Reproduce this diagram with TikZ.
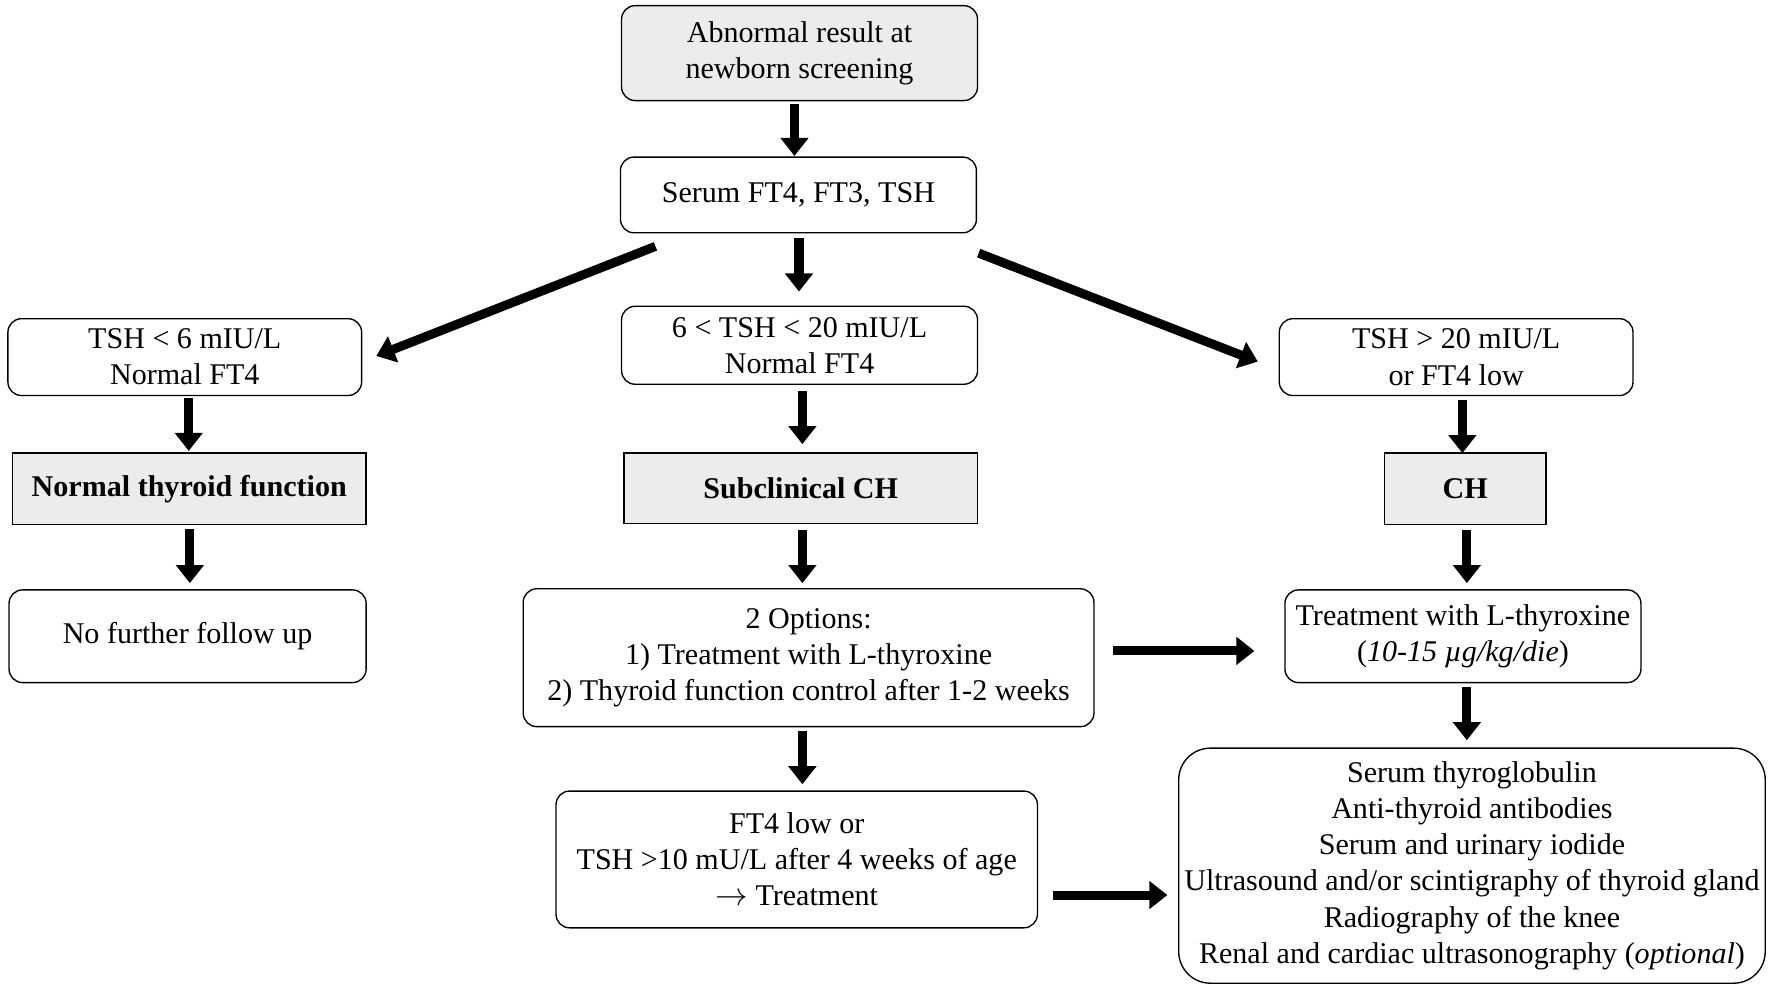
\documentclass[tikz,border=0pt]{standalone}
\usepackage{fontspec}
\setmainfont{Liberation Serif}
\usetikzlibrary{arrows.meta}
\begin{document}
\begin{tikzpicture}[x=0.5pt,y=-0.5pt,
 box/.style={draw,rounded corners=6pt,line width=0.6pt,align=center,font=\fontsize{13.3}{16}\selectfont},
 gbox/.style={draw,line width=0.6pt,fill=gray!15,align=center,font=\bfseries\fontsize{13.3}{16}\selectfont},
 arr/.style={line width=4pt,-{Triangle[length=8pt,width=12pt]}}]
\useasboundingbox (0,0) rectangle (1568,877);
\newcommand\bx[7]{\node[#1,minimum width={(#3-#2)*0.5pt},minimum height={(#5-#4)*0.5pt},inner sep=1pt] (#6) at ({(#2+#3)/2},{(#4+#5)/2}) {#7};}
\bx{box,fill=gray!15}{550}{865}{5}{89}{A}{Abnormal result at\\newborn screening}
\bx{box}{549}{864}{139}{206}{B}{Serum FT4, FT3, TSH}
\bx{box}{7}{320}{282}{350}{L1}{TSH < 6 mIU/L\\Normal FT4}
\bx{box}{550}{865}{271}{340}{M1}{6 < TSH < 20 mIU/L\\Normal FT4}
\bx{box}{1132}{1445}{282}{350}{R1}{TSH > 20 mIU/L\\or FT4 low}
\bx{gbox}{11}{324}{401}{464}{L2}{Normal thyroid function}
\bx{gbox}{552}{865}{401}{463}{M2}{Subclinical CH}
\bx{gbox}{1225}{1368}{401}{464}{R2}{CH}
\bx{box}{8}{324}{522}{604}{L3}{No further follow up}
\bx{box}{463}{968}{521}{643}{M3}{2 Options:\\1) Treatment with L-thyroxine\\2) Thyroid function control after 1-2 weeks}
\bx{box}{1137}{1452}{522}{604}{R3}{Treatment with L-thyroxine\\(\textit{10-15 µg/kg/die})}
\bx{box}{492}{918}{700}{821}{M4}{FT4 low or\\TSH >10 mU/L after 4 weeks of age\\$\rightarrow$ Treatment}
\bx{box,rounded corners=14pt}{1043}{1562}{662}{870}{R4}{Serum thyroglobulin\\Anti-thyroid antibodies\\Serum and urinary iodide\\Ultrasound and/or scintigraphy of thyroid gland\\Radiography of the knee\\Renal and cardiac ultrasonography (\textit{optional})}
\coordinate (a1) at (703,92); \coordinate (a2) at (703,138);
\coordinate (b1) at (707,211); \coordinate (b2) at (707,258);
\coordinate (c1) at (580,218); \coordinate (c2) at (333,315);
\coordinate (d1) at (866,224); \coordinate (d2) at (1113,320);
\draw[arr] (a1)--(a2); \draw[arr] (b1)--(b2);
\draw[arr] (c1)--(c2); \draw[arr] (d1)--(d2);
\draw[arr] (167,352) -- (167,399);
\draw[arr] (710,346) -- (710,393);
\draw[arr] (1294,354) -- (1294,401);
\draw[arr] (168,468) -- (168,516);
\draw[arr] (710,469) -- (710,516);
\draw[arr] (1298,469) -- (1298,516);
\draw[arr] (710,647) -- (710,694);
\draw[arr] (1298,608) -- (1298,655);
\draw[arr] (985,576) -- (1110,576);
\draw[arr] (932,792) -- (1033,792);
\end{tikzpicture}
\end{document}
